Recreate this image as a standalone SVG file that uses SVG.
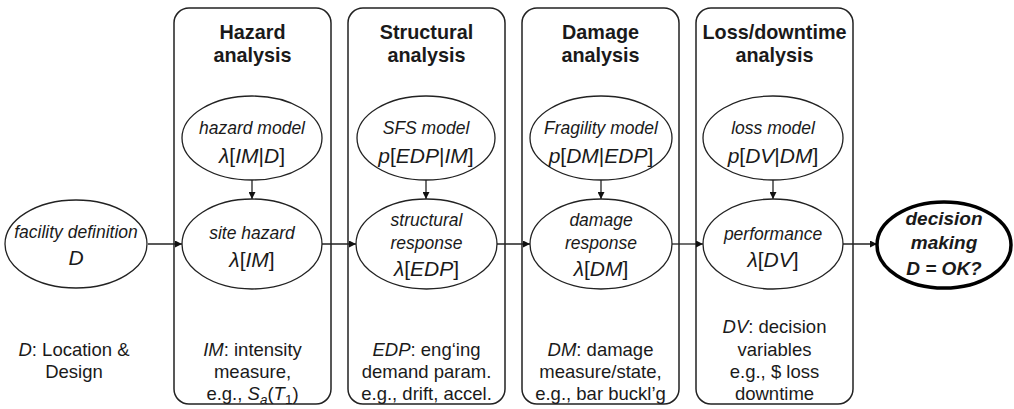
<svg xmlns="http://www.w3.org/2000/svg" width="1014" height="409" viewBox="0 0 1014 409">
<style>
text{font-family:"Liberation Sans",Arial,sans-serif;fill:#1a1a1a;text-anchor:middle}
.box{fill:none;stroke:#222;stroke-width:1.5}
.el{fill:#fff;stroke:#222;stroke-width:1.3}
.dec{fill:#fff;stroke:#000;stroke-width:3.5}
.title{font-size:19.8px;font-weight:bold}
.lab{font-size:17.5px;font-style:italic}
.math{font-size:21px}
.i{font-style:italic}
.note{font-size:18.5px}
.decT{font-size:19px;font-weight:bold;font-style:italic}
.con{stroke:#222;stroke-width:1.3;fill:none;marker-end:url(#ah)}
</style>
<defs>
<marker id="ah" viewBox="0 0 10 10" refX="10" refY="5" markerWidth="7" markerHeight="7" markerUnits="userSpaceOnUse" orient="auto">
<path d="M0,0 L10,5 L0,10 z" fill="#111"/>
</marker>
</defs>

<g id="box-hazard">
<rect class="box" x="174" y="8" width="157" height="396" rx="15"/>
<text class="title" x="252.5" y="39">Hazard</text>
<text class="title" x="252.5" y="62">analysis</text>
<text class="note" x="252.5" y="356"><tspan class="i">IM</tspan>: intensity</text>
<text class="note" x="252.5" y="378">measure,</text>
<text class="note" x="252.5" y="400">e.g., <tspan class="i">S</tspan><tspan class="i" font-size="13.5" dy="4">a</tspan><tspan dy="-4">(</tspan><tspan class="i">T</tspan><tspan font-size="13.5" dy="4">1</tspan><tspan dy="-4">)</tspan></text>
</g>
<g id="box-structural">
<rect class="box" x="348" y="8" width="157" height="396" rx="15"/>
<text class="title" x="426.5" y="39">Structural</text>
<text class="title" x="426.5" y="62">analysis</text>
<text class="note" x="426.5" y="356"><tspan class="i">EDP</tspan>: eng‘ing</text>
<text class="note" x="426.5" y="378">demand param.</text>
<text class="note" x="426.5" y="400">e.g., drift, accel.</text>
</g>
<g id="box-damage">
<rect class="box" x="522" y="8" width="157" height="396" rx="15"/>
<text class="title" x="600.5" y="39">Damage</text>
<text class="title" x="600.5" y="62">analysis</text>
<text class="note" x="600.5" y="356"><tspan class="i">DM</tspan>: damage</text>
<text class="note" x="600.5" y="378">measure/state,</text>
<text class="note" x="600.5" y="400">e.g., bar buckl’g</text>
</g>
<g id="box-loss">
<rect class="box" x="696" y="8" width="157" height="396" rx="15"/>
<text class="title" x="774.5" y="39">Loss/downtime</text>
<text class="title" x="774.5" y="62">analysis</text>
<text class="note" x="774.5" y="333"><tspan class="i">DV</tspan>: decision</text>
<text class="note" x="774.5" y="356">variables</text>
<text class="note" x="774.5" y="378">e.g., $ loss</text>
<text class="note" x="774.5" y="400">downtime</text>
</g>

<g id="connectors">
<line class="con" x1="148" y1="244" x2="182" y2="244"/>
<line class="con" x1="322" y1="244" x2="356" y2="244"/>
<line class="con" x1="497" y1="244" x2="530" y2="244"/>
<line class="con" x1="672" y1="244" x2="703" y2="244"/>
<line class="con" x1="843" y1="244" x2="877" y2="244"/>
<line class="con" x1="252" y1="180" x2="252" y2="199"/>
<line class="con" x1="426" y1="180" x2="426" y2="199"/>
<line class="con" x1="601" y1="180" x2="601" y2="199"/>
<line class="con" x1="773" y1="180" x2="773" y2="199"/>
</g>

<g id="facility">
<ellipse class="el" cx="76" cy="244" rx="71" ry="44"/>
<text class="lab" x="76" y="238">facility definition</text>
<text class="math i" x="76" y="265">D</text>
</g>
<g id="facility-note">
<text class="note" x="74" y="356"><tspan class="i">D</tspan>: Location &amp;</text>
<text class="note" x="74" y="378">Design</text>
</g>

<g id="hazard-model">
<ellipse class="el" cx="252" cy="138" rx="70" ry="42"/>
<text class="lab" x="252" y="134">hazard model</text>
<text class="math" x="252" y="163"><tspan class="i">λ</tspan>[<tspan class="i">IM</tspan>|<tspan class="i">D</tspan>]</text>
</g>
<g id="site-hazard">
<ellipse class="el" cx="252" cy="244" rx="70" ry="45"/>
<text class="lab" x="252" y="239">site hazard</text>
<text class="math" x="252" y="267"><tspan class="i">λ</tspan>[<tspan class="i">IM</tspan>]</text>
</g>

<g id="sfs-model">
<ellipse class="el" cx="426" cy="138" rx="69" ry="42"/>
<text class="lab" x="426" y="134">SFS model</text>
<text class="math" x="426" y="163"><tspan class="i">p</tspan>[<tspan class="i">EDP</tspan>|<tspan class="i">IM</tspan>]</text>
</g>
<g id="structural-response">
<ellipse class="el" cx="426.5" cy="244" rx="70.5" ry="45"/>
<text class="lab" x="426.5" y="226">structural</text>
<text class="lab" x="426.5" y="249">response</text>
<text class="math" x="426.5" y="276"><tspan class="i">λ</tspan>[<tspan class="i">EDP</tspan>]</text>
</g>

<g id="fragility-model">
<ellipse class="el" cx="601" cy="138" rx="71" ry="42"/>
<text class="lab" x="601" y="134">Fragility model</text>
<text class="math" x="601" y="163"><tspan class="i">p</tspan>[<tspan class="i">DM</tspan>|<tspan class="i">EDP</tspan>]</text>
</g>
<g id="damage-response">
<ellipse class="el" cx="601" cy="244" rx="71" ry="45"/>
<text class="lab" x="601" y="226">damage</text>
<text class="lab" x="601" y="249">response</text>
<text class="math" x="601" y="276"><tspan class="i">λ</tspan>[<tspan class="i">DM</tspan>]</text>
</g>

<g id="loss-model">
<ellipse class="el" cx="773" cy="138" rx="70" ry="42"/>
<text class="lab" x="773" y="134">loss model</text>
<text class="math" x="773" y="163"><tspan class="i">p</tspan>[<tspan class="i">DV</tspan>|<tspan class="i">DM</tspan>]</text>
</g>
<g id="performance">
<ellipse class="el" cx="773" cy="244" rx="70" ry="45"/>
<text class="lab" x="773" y="240">performance</text>
<text class="math" x="773" y="267"><tspan class="i">λ</tspan>[<tspan class="i">DV</tspan>]</text>
</g>

<g id="decision">
<ellipse class="dec" cx="944" cy="245" rx="67" ry="43"/>
<text class="decT" x="944" y="225">decision</text>
<text class="decT" x="944" y="249">making</text>
<text class="decT" x="944" y="275">D = OK?</text>
</g>
</svg>
